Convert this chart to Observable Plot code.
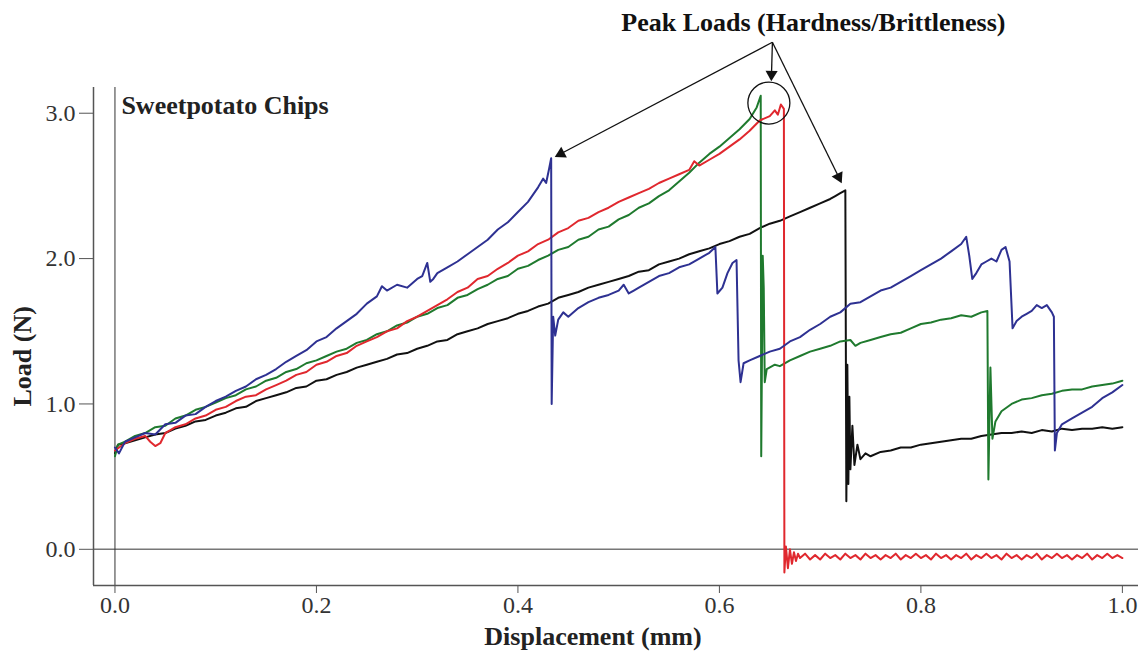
<!DOCTYPE html>
<html>
<head>
<meta charset="utf-8">
<script src="https://cdn.jsdelivr.net/npm/d3@7"></script>
<script src="https://cdn.jsdelivr.net/npm/@observablehq/plot@0.6"></script>
<style>
  html, body { margin: 0; padding: 0; background: #fff; }
  svg { display: block; }
</style>
</head>
<body>
<div id="chart"></div>
<script>
// ---- tick values ----
const xTicks = [0, 0.2, 0.4, 0.6, 0.8, 1.0];
const yTicks = [0, 1, 2, 3];

// ---- series (displacement mm, load N) ----
const blue = [
[0.000,0.70],[0.004,0.66],[0.010,0.74],[0.020,0.77],[0.030,0.80],[0.040,0.79],[0.050,0.86],[0.060,0.87],[0.070,0.92],[0.080,0.93],
[0.090,0.98],[0.100,1.02],[0.110,1.05],[0.120,1.09],[0.130,1.12],[0.140,1.17],[0.150,1.20],[0.160,1.24],[0.170,1.29],[0.180,1.33],
[0.190,1.37],[0.200,1.43],[0.210,1.46],[0.220,1.52],[0.230,1.57],[0.240,1.62],[0.250,1.69],[0.260,1.74],[0.265,1.81],[0.270,1.78],
[0.280,1.82],[0.290,1.80],[0.300,1.86],[0.305,1.88],[0.310,1.97],[0.313,1.84],[0.316,1.86],[0.320,1.90],[0.330,1.94],[0.340,1.98],
[0.350,2.03],[0.360,2.08],[0.370,2.13],[0.380,2.20],[0.390,2.25],[0.400,2.32],[0.410,2.39],[0.415,2.44],[0.420,2.49],[0.425,2.55],
[0.428,2.52],[0.431,2.62],[0.433,2.69],[0.4335,1.00],[0.435,1.60],[0.437,1.47],[0.440,1.58],[0.445,1.63],[0.450,1.60],[0.460,1.66],
[0.470,1.70],[0.480,1.73],[0.490,1.75],[0.500,1.78],[0.505,1.82],[0.510,1.76],[0.515,1.78],[0.520,1.80],[0.530,1.84],[0.540,1.88],
[0.550,1.90],[0.560,1.94],[0.570,1.96],[0.580,2.00],[0.590,2.04],[0.596,2.08],[0.598,1.76],[0.603,1.80],[0.608,1.90],[0.613,1.97],
[0.617,1.99],[0.619,1.30],[0.621,1.15],[0.624,1.28],[0.630,1.30],[0.640,1.33],[0.650,1.36],[0.660,1.38],[0.670,1.43],[0.680,1.46],
[0.690,1.51],[0.700,1.55],[0.710,1.60],[0.720,1.63],[0.730,1.69],[0.740,1.70],[0.750,1.74],[0.760,1.78],[0.770,1.80],[0.780,1.84],
[0.790,1.88],[0.800,1.92],[0.810,1.96],[0.820,2.00],[0.830,2.05],[0.840,2.10],[0.845,2.15],[0.848,2.02],[0.851,1.86],[0.855,1.90],
[0.860,1.96],[0.865,1.98],[0.870,2.00],[0.875,1.98],[0.880,2.06],[0.884,2.08],[0.888,1.98],[0.891,1.52],[0.895,1.57],[0.900,1.60],
[0.905,1.62],[0.910,1.64],[0.915,1.68],[0.920,1.66],[0.925,1.68],[0.930,1.63],[0.932,1.60],[0.933,0.68],[0.935,0.80],[0.940,0.86],
[0.950,0.90],[0.960,0.94],[0.970,0.98],[0.980,1.04],[0.990,1.08],[1.000,1.13]
];

const red = [
[0.000,0.68],[0.010,0.73],[0.020,0.76],[0.030,0.78],[0.035,0.74],[0.040,0.71],[0.045,0.73],[0.050,0.80],[0.060,0.84],[0.070,0.86],
[0.080,0.90],[0.090,0.92],[0.100,0.96],[0.110,0.98],[0.120,1.02],[0.130,1.05],[0.140,1.06],[0.150,1.10],[0.160,1.13],[0.170,1.16],
[0.180,1.20],[0.190,1.22],[0.200,1.27],[0.210,1.29],[0.220,1.33],[0.230,1.35],[0.240,1.40],[0.250,1.43],[0.260,1.46],[0.270,1.50],
[0.280,1.52],[0.290,1.57],[0.300,1.60],[0.310,1.64],[0.320,1.68],[0.330,1.72],[0.340,1.77],[0.350,1.80],[0.360,1.86],[0.370,1.88],
[0.380,1.93],[0.390,1.97],[0.400,2.02],[0.410,2.05],[0.420,2.10],[0.430,2.13],[0.440,2.18],[0.450,2.21],[0.460,2.26],[0.470,2.28],
[0.480,2.32],[0.490,2.35],[0.500,2.39],[0.510,2.42],[0.520,2.45],[0.530,2.48],[0.540,2.52],[0.550,2.55],[0.560,2.58],[0.570,2.61],
[0.575,2.67],[0.580,2.64],[0.590,2.68],[0.600,2.72],[0.610,2.77],[0.620,2.82],[0.630,2.88],[0.640,2.95],[0.650,2.98],[0.655,3.02],
[0.658,2.99],[0.661,3.06],[0.664,3.03],[0.6645,-0.16],[0.666,0.02],[0.668,-0.13],[0.670,0.00],[0.672,-0.10],[0.674,-0.02],[0.676,-0.08],
[0.678,-0.03],[0.680,-0.06],[0.685,-0.03],[0.690,-0.07],[0.695,-0.04],[0.700,-0.07],[0.705,-0.03],[0.710,-0.06],[0.715,-0.04],[0.720,-0.07],
[0.725,-0.03],[0.730,-0.06],[0.735,-0.04],[0.740,-0.07],[0.745,-0.03],[0.750,-0.06],[0.755,-0.04],[0.760,-0.07],[0.765,-0.04],[0.770,-0.06],
[0.775,-0.03],[0.780,-0.07],[0.785,-0.04],[0.790,-0.06],[0.795,-0.03],[0.800,-0.06],[0.805,-0.04],[0.810,-0.07],[0.815,-0.03],[0.820,-0.06],
[0.825,-0.04],[0.830,-0.07],[0.835,-0.04],[0.840,-0.06],[0.845,-0.03],[0.850,-0.07],[0.855,-0.04],[0.860,-0.06],[0.865,-0.03],[0.870,-0.06],
[0.875,-0.04],[0.880,-0.07],[0.885,-0.03],[0.890,-0.06],[0.895,-0.04],[0.900,-0.07],[0.905,-0.04],[0.910,-0.06],[0.915,-0.03],[0.920,-0.07],
[0.925,-0.04],[0.930,-0.06],[0.935,-0.03],[0.940,-0.06],[0.945,-0.04],[0.950,-0.07],[0.955,-0.04],[0.960,-0.06],[0.965,-0.03],[0.970,-0.07],
[0.975,-0.04],[0.980,-0.06],[0.985,-0.03],[0.990,-0.06],[0.995,-0.04],[1.000,-0.06]
];

const green = [
[0.000,0.64],[0.003,0.72],[0.010,0.74],[0.020,0.78],[0.030,0.80],[0.040,0.84],[0.050,0.85],[0.060,0.90],[0.070,0.92],[0.080,0.96],
[0.090,0.98],[0.100,1.01],[0.110,1.04],[0.120,1.06],[0.130,1.10],[0.140,1.12],[0.150,1.16],[0.160,1.18],[0.170,1.22],[0.180,1.24],
[0.190,1.28],[0.200,1.30],[0.210,1.33],[0.220,1.36],[0.230,1.38],[0.240,1.42],[0.250,1.44],[0.260,1.48],[0.270,1.50],[0.280,1.54],
[0.290,1.56],[0.300,1.60],[0.310,1.62],[0.320,1.66],[0.330,1.68],[0.340,1.73],[0.350,1.75],[0.360,1.79],[0.370,1.82],[0.380,1.86],
[0.390,1.88],[0.400,1.93],[0.410,1.95],[0.420,1.99],[0.430,2.02],[0.440,2.06],[0.450,2.08],[0.460,2.13],[0.470,2.15],[0.480,2.20],
[0.490,2.22],[0.500,2.27],[0.510,2.30],[0.520,2.35],[0.530,2.38],[0.540,2.43],[0.550,2.47],[0.560,2.53],[0.570,2.59],[0.580,2.66],
[0.590,2.72],[0.600,2.77],[0.610,2.83],[0.620,2.89],[0.630,2.96],[0.637,3.04],[0.641,3.12],[0.6415,0.64],[0.643,2.02],[0.644,1.80],
[0.645,1.15],[0.647,1.24],[0.655,1.27],[0.660,1.26],[0.670,1.30],[0.680,1.33],[0.690,1.36],[0.700,1.38],[0.710,1.40],[0.720,1.43],
[0.730,1.44],[0.735,1.40],[0.740,1.42],[0.750,1.44],[0.760,1.46],[0.770,1.48],[0.780,1.49],[0.790,1.52],[0.800,1.55],[0.810,1.56],
[0.820,1.58],[0.830,1.59],[0.840,1.61],[0.850,1.60],[0.860,1.63],[0.866,1.64],[0.867,0.48],[0.869,1.25],[0.871,0.76],[0.874,0.88],
[0.880,0.95],[0.890,1.00],[0.900,1.03],[0.910,1.04],[0.920,1.06],[0.930,1.07],[0.940,1.09],[0.950,1.10],[0.960,1.10],[0.970,1.12],
[0.980,1.13],[0.990,1.14],[1.000,1.16]
];

const black = [
[0.000,0.66],[0.003,0.72],[0.010,0.73],[0.020,0.75],[0.030,0.77],[0.040,0.79],[0.050,0.80],[0.060,0.83],[0.070,0.85],[0.080,0.88],
[0.090,0.89],[0.100,0.92],[0.110,0.94],[0.120,0.97],[0.130,0.98],[0.140,1.02],[0.150,1.04],[0.160,1.06],[0.170,1.08],[0.180,1.11],
[0.190,1.12],[0.200,1.16],[0.210,1.17],[0.220,1.20],[0.230,1.22],[0.240,1.25],[0.250,1.27],[0.260,1.29],[0.270,1.31],[0.280,1.34],
[0.290,1.35],[0.300,1.38],[0.310,1.40],[0.320,1.43],[0.330,1.44],[0.340,1.48],[0.350,1.50],[0.360,1.52],[0.370,1.55],[0.380,1.57],
[0.390,1.59],[0.400,1.62],[0.410,1.64],[0.420,1.67],[0.430,1.69],[0.440,1.73],[0.450,1.75],[0.460,1.77],[0.470,1.80],[0.480,1.82],
[0.490,1.84],[0.500,1.86],[0.510,1.88],[0.520,1.91],[0.530,1.92],[0.540,1.96],[0.550,1.98],[0.560,2.00],[0.570,2.03],[0.580,2.05],
[0.590,2.07],[0.600,2.10],[0.610,2.12],[0.620,2.15],[0.630,2.17],[0.640,2.21],[0.650,2.24],[0.660,2.26],[0.670,2.29],[0.680,2.32],
[0.690,2.35],[0.700,2.38],[0.710,2.41],[0.715,2.43],[0.720,2.45],[0.725,2.47],[0.726,0.33],[0.727,1.27],[0.728,0.45],[0.729,1.05],
[0.730,0.55],[0.732,0.85],[0.734,0.58],[0.737,0.72],[0.740,0.62],[0.745,0.66],[0.750,0.64],[0.760,0.67],[0.770,0.68],[0.780,0.70],
[0.790,0.70],[0.800,0.72],[0.810,0.73],[0.820,0.74],[0.830,0.75],[0.840,0.76],[0.850,0.76],[0.860,0.78],[0.870,0.79],[0.880,0.80],
[0.890,0.80],[0.900,0.81],[0.910,0.80],[0.920,0.82],[0.930,0.81],[0.940,0.83],[0.950,0.82],[0.960,0.83],[0.970,0.83],[0.980,0.84],
[0.990,0.83],[1.000,0.84]
];

const seriesColors = {blue: "#2e3192", red: "#e0282e", green: "#1f7a2e", black: "#111111"};

// ---- annotation texts and anchors (data coordinates) ----
const titleText = "Sweetpotato Chips";
const peakText = "Peak Loads (Hardness/Brittleness)";
const xLabel = "Displacement (mm)";
const yLabel = "Load (N)";
const peakLabelPos = [0.6933, 3.626];
const arrowOrigin = [0.6526, 3.488];
const arrowTargets = [[0.4392, 2.709], [0.6516, 3.240], [0.7201, 2.537]];
const circlePos = [0.6491, 3.07];

const xDomain = [-0.0213, 1.016];
const yDomain = [-0.249, 3.177];

const font = "'Liberation Serif', 'Times New Roman', serif";
const dims = {width: 1138, height: 653, marginLeft: 93, marginRight: 0, marginTop: 87, marginBottom: 68};

// probe pass to get the scales for arrowhead orientation
const probe = Plot.plot({...dims, x: {domain: xDomain}, y: {domain: yDomain}, marks: []});
const sx = probe.scale("x"), sy = probe.scale("y");
const px = v => sx.range[0] + (v - sx.domain[0]) / (sx.domain[1] - sx.domain[0]) * (sx.range[1] - sx.range[0]);
const py = v => sy.range[0] + (v - sy.domain[0]) / (sy.domain[1] - sy.domain[0]) * (sy.range[1] - sy.range[0]);
const ix = p => sx.domain[0] + (p - sx.range[0]) / (sx.range[1] - sx.range[0]) * (sx.domain[1] - sx.domain[0]);
const iy = p => sy.domain[0] + (p - sy.range[0]) / (sy.range[1] - sy.range[0]) * (sy.domain[1] - sy.domain[0]);
const heads = arrowTargets.map(([tx, ty]) => {
  const x0 = px(arrowOrigin[0]), y0 = py(arrowOrigin[1]);
  const x1 = px(tx), y1 = py(ty);
  const len = Math.hypot(x1 - x0, y1 - y0);
  const ux = (x1 - x0) / len, uy = (y1 - y0) / len;
  const back = 4;
  return {x: ix(x1 - ux * back), y: iy(y1 - uy * back), angle: Math.atan2(ux, -uy) * 180 / Math.PI};
});

const chart = Plot.plot({
  ...dims,
  x: {domain: xDomain},
  y: {domain: yDomain},
  style: {fontFamily: font, background: "#fff", color: "#333"},
  marks: [
    Plot.ruleY([0], {stroke: "#777", strokeWidth: 1.5}),
    Plot.ruleX([0], {stroke: "#333", strokeWidth: 1}),
    Plot.ruleX([xDomain[0]], {stroke: "#555", strokeWidth: 1.5}),
    Plot.ruleY([yDomain[0]], {stroke: "#555", strokeWidth: 1.5}),
    Plot.axisX({ticks: xTicks, tickFormat: d3.format(".1f"), tickSize: 8, tickPadding: 2, fontSize: 24, label: null, stroke: "#555"}),
    Plot.axisY({ticks: yTicks, tickFormat: d3.format(".1f"), tickSize: 14, tickPadding: 4, fontSize: 24, label: null, stroke: "#555"}),
    Plot.line(black, {x: d => d[0], y: d => d[1], stroke: seriesColors.black, strokeWidth: 2}),
    Plot.line(green, {x: d => d[0], y: d => d[1], stroke: seriesColors.green, strokeWidth: 2}),
    Plot.line(red, {x: d => d[0], y: d => d[1], stroke: seriesColors.red, strokeWidth: 2}),
    Plot.line(blue, {x: d => d[0], y: d => d[1], stroke: seriesColors.blue, strokeWidth: 2}),
    Plot.link(arrowTargets, {x1: () => arrowOrigin[0], y1: () => arrowOrigin[1], x2: d => d[0], y2: d => d[1], stroke: "#111", strokeWidth: 1.3}),
    Plot.dot(heads, {x: "x", y: "y", rotate: "angle", symbol: "triangle", r: 4.5, fill: "#111", stroke: "none"}),
    Plot.dot([circlePos], {x: d => d[0], y: d => d[1], r: 21, stroke: "#111", strokeWidth: 1.3, fill: "none"}),
    Plot.text([peakText], {x: () => peakLabelPos[0], y: () => peakLabelPos[1], fontSize: 26, fontWeight: "bold", fill: "#111"}),
    Plot.text([titleText], {x: () => 0.0064, y: () => 3.053, textAnchor: "start", fontSize: 26, fontWeight: "bold", fill: "#222"}),
    Plot.text([xLabel], {frameAnchor: "bottom", dx: -23, dy: 59, fontSize: 26, fontWeight: "bold", fill: "#222"}),
    Plot.text([yLabel], {frameAnchor: "left", dx: -71, dy: 70, rotate: -90, fontSize: 26, fontWeight: "bold", fill: "#222"})
  ]
});

document.getElementById("chart").appendChild(chart);
</script>
</body>
</html>
